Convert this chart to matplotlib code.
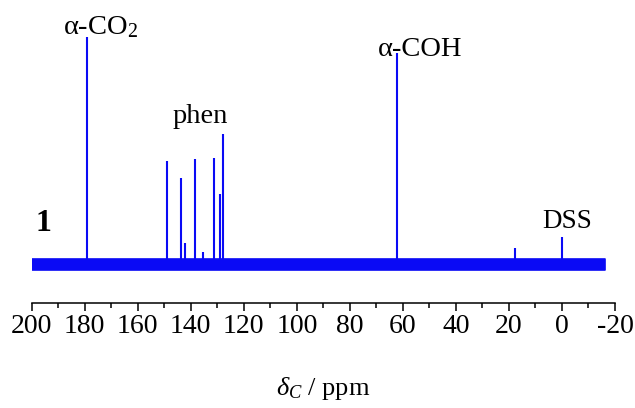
import matplotlib
matplotlib.use("Agg")
import matplotlib.pyplot as plt
import numpy as np

plt.rcParams['font.family'] = ['Liberation Serif', 'DejaVu Serif']
plt.rcParams['mathtext.fontset'] = 'custom'
plt.rcParams['mathtext.rm'] = 'Liberation Serif'
plt.rcParams['mathtext.it'] = 'Liberation Serif:italic'
plt.rcParams['mathtext.bf'] = 'Liberation Serif:bold'
plt.rcParams['axes.unicode_minus'] = False

# Data: 13C NMR peaks (ppm, relative intensity)
peak_ppm = [179.0, 148.9, 143.7, 142.2, 138.4, 135.5, 131.3, 128.8, 127.8, 62.1, 17.8, 0.0]
peak_height = [100.0, 45.4, 37.8, 9.4, 46.3, 5.4, 46.8, 30.7, 57.2, 92.9, 7.0, 12.0]
spectrum_range = [200.0, -16.3]      # ppm extent of recorded spectrum
noise_band = [-2.6, 2.3]             # baseline noise envelope (relative intensity)
xticks = [200, 180, 160, 140, 120, 100, 80, 60, 40, 20, 0, -20]
xtick_labels = ['200', '180', '160', '140', '120', '100', '80', '60', '40', '20', '0', '-20']

color = '#0a0af5'

fig = plt.figure(figsize=(6.35, 4.08), dpi=100)
ax = fig.add_axes([0.0499, 0.2574, 0.9186, 0.6936])

# baseline noise band
ax.fill_between(spectrum_range, [noise_band[0]] * 2, [noise_band[1]] * 2,
                color=color, linewidth=1.2, edgecolor=color)
# peaks
ax.vlines(peak_ppm, 0, peak_height, color=color, linewidth=1.5)

ax.set_xlim(200, -20)
ax.set_ylim(-17.2, 107.6)

for s in ['top', 'left', 'right']:
    ax.spines[s].set_visible(False)
ax.spines['bottom'].set_linewidth(1.1)
ax.set_yticks([])
ax.set_xticks(xticks)
ax.set_xticklabels(xtick_labels, fontsize=20)
ax.set_xticks(np.arange(190, -20, -20), minor=True)
ax.tick_params(axis='x', which='major', direction='out', length=6, width=1.1, pad=2)
ax.tick_params(axis='x', which='minor', direction='out', length=3.8, width=1.1)

# annotations
ax.text(188.2, 101.5, 'α-CO$_2$', fontsize=20.5, ha='left', va='baseline')
ax.text(146.8, 62.2, 'phen', fontsize=20.5, ha='left', va='baseline')
ax.text(69.3, 91.8, 'α-COH', fontsize=20.5, ha='left', va='baseline')
ax.text(7.55, 15.75, 'DSS', fontsize=19.5, ha='left', va='baseline')
ax.text(198.75, 14.7, '1', fontsize=23, fontweight='bold', ha='left', va='baseline')

fig.text(323 / 635, 1 - 395 / 408, r'$\delta_C$ / ppm', fontsize=19,
         ha='center', va='baseline')

fig.savefig('out.png', dpi=100)
